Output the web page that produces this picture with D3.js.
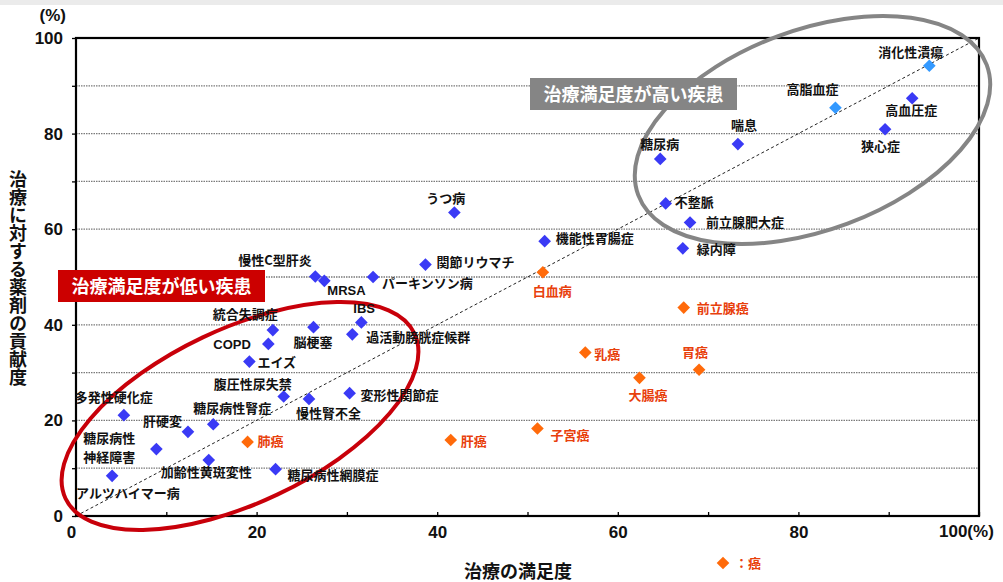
<!DOCTYPE html>
<html><head><meta charset="utf-8">
<script src="https://cdn.jsdelivr.net/npm/d3@7/dist/d3.min.js"></script>
<style>
html,body{margin:0;padding:0;background:#fff;}
svg{display:block;}
</style></head>
<body><svg id="chart" width="1003" height="582"></svg>
<script>
// ---------- data ----------
const blueNames = ["アルツハイマー病","糖尿病性\n神経障害","多発性硬化症","肝硬変","糖尿病性腎症","加齢性黄斑変性","糖尿病性網膜症","腹圧性尿失禁","慢性腎不全","変形性関節症","エイズ","COPD","統合失調症","脳梗塞","過活動膀胱症候群","IBS","慢性C型肝炎","MRSA","パーキンソン病","関節リウマチ","うつ病","機能性胃腸症","糖尿病","喘息","不整脈","前立腺肥大症","緑内障","狭心症","高血圧症"];
const blueX = [4.0,8.9,5.3,12.4,15.2,14.7,22.1,23.0,25.8,30.3,19.2,21.3,21.8,26.3,30.6,31.6,26.5,27.5,32.9,38.7,41.9,51.9,64.7,73.3,65.3,68.0,67.2,89.6,92.6];
const blueY = [8.4,14.0,21.1,17.6,19.2,11.7,9.8,25.0,24.5,25.7,32.3,36.0,38.9,39.5,38.0,40.5,50.1,49.2,50.0,52.6,63.5,57.5,74.7,77.8,65.4,61.4,56.0,80.9,87.4];

const lightNames = ["高脂血症","消化性潰瘍"];
const lightX = [84.1,94.5];
const lightY = [85.4,94.2];

const cancerNames = ["肺癌","肝癌","子宮癌","白血病","乳癌","大腸癌","胃癌","前立腺癌"];
const cancerX = [19.0,41.5,51.1,51.7,56.4,62.4,69.0,67.3];
const cancerY = [15.5,15.9,18.3,51.0,34.2,28.9,30.6,43.6];

const yTicks = [0,10,20,30,40,50,60,70,80,90,100];
const xTicks = [0,10,20,30,40,50,60,70,80,90,100];
const tickLabels = [0,20,40,60,80];

const xTitle = "治療の満足度";
const yTitle = "治療に対する薬剤の貢献度";
const lowLabel = "治療満足度が低い疾患";
const highLabel = "治療満足度が高い疾患";
const legendLabel = "：癌";

// ---------- layout (label offsets in px, relative to the marker) ----------
const labelOffsets = {
 "アルツハイマー病":[-36,22],"糖尿病性\n神経障害":[-73,-6],"多発性硬化症":[-49,-13],"肝硬変":[-45,-6],
 "糖尿病性腎症":[-20,-11],"加齢性黄斑変性":[-48,17],"糖尿病性網膜症":[12,11],"腹圧性尿失禁":[-70,-8],
 "慢性腎不全":[-13,19],"変形性関節症":[11,7],"エイズ":[8,5],"COPD":[-55,5],"統合失調症":[-60,-11],
 "脳梗塞":[-20,20],"過活動膀胱症候群":[14,8],"IBS":[-8,-9],"慢性C型肝炎":[-77,-12],"MRSA":[3,14],
 "パーキンソン病":[9,11],"関節リウマチ":[11,2],"うつ病":[-28,-9],"機能性胃腸症":[11,2],"糖尿病":[-20,-10],
 "喘息":[-7,-14],"不整脈":[9,4],"前立腺肥大症":[16,4],"緑内障":[14,6],"狭心症":[-24,22],"高血圧症":[-27,17],
 "高脂血症":[-49,-14],"消化性潰瘍":[-51,-9],
 "肺癌":[10,4],"肝癌":[10,6],"子宮癌":[13,11],"白血病":[-10,24],"乳癌":[9,6],"大腸癌":[-11,22],"胃癌":[-17,-13],"前立腺癌":[13,5]
};
const lineGap = 19;

const W = 1003, H = 582;
const svg = d3.select("#chart");
const x = d3.scaleLinear().domain([0,100]).range([76,979]);
const y = d3.scaleLinear().domain([0,100]).range([516,38]);

const numFont = "'Liberation Sans', Arial, sans-serif";
const jpFont = "'Noto Sans CJK JP', 'Noto Sans CJK SC', sans-serif";

// top band
svg.append("rect").attr("x",0).attr("y",0).attr("width",W).attr("height",5).attr("fill","#ebebeb");

// grid
svg.append("g").selectAll("line").data(yTicks.filter(v=>v>0&&v<100)).join("line")
  .attr("x1",x(0)).attr("x2",x(100)).attr("y1",d=>y(d)).attr("y2",d=>y(d))
  .attr("stroke","#7a7a7a").attr("stroke-width",1.3).attr("stroke-dasharray","1.5,1");

// diagonal
svg.append("line").attr("x1",x(0)).attr("y1",y(0)).attr("x2",x(100)).attr("y2",y(100))
  .attr("stroke","#222").attr("stroke-width",1).attr("stroke-dasharray","3,2.5");

// axes
const gy = svg.append("g").attr("transform",`translate(${x(0)},0)`)
  .call(d3.axisLeft(y).tickValues(yTicks).tickSize(4).tickPadding(9)
     .tickFormat(d=>tickLabels.includes(d)||d===100 ? d : ""));
gy.select(".domain").remove();
gy.selectAll("line").attr("stroke","#000").attr("stroke-width",1.3);
gy.selectAll("text").attr("font-family",numFont).attr("font-weight","bold").attr("font-size",17).attr("fill","#111");

const gx = svg.append("g").attr("transform",`translate(0,${y(0)})`)
  .call(d3.axisBottom(x).tickValues(xTicks).tickSizeInner(-4).tickSizeOuter(0).tickPadding(10)
     .tickFormat(d=>tickLabels.includes(d) ? d : ""));
gx.select(".domain").remove();
gx.selectAll("line").attr("stroke","#000").attr("stroke-width",1.3);
gx.selectAll("text").attr("font-family",numFont).attr("font-weight","bold").attr("font-size",17).attr("fill","#111");
gx.selectAll(".tick").filter(d=>d===0).select("text").attr("dx",-5);

svg.append("text").attr("x",939).attr("y",537).attr("font-family",numFont).attr("font-weight","bold")
  .attr("font-size",17).attr("fill","#111").text("100(%)");
svg.append("text").attr("x",66).attr("y",21).attr("text-anchor","end").attr("font-family",numFont)
  .attr("font-weight","bold").attr("font-size",17).attr("fill","#111").text("(%)");

// frame
svg.append("rect").attr("x",x(0)).attr("y",y(100)).attr("width",x(100)-x(0)).attr("height",y(0)-y(100))
  .attr("fill","none").attr("stroke","#000").attr("stroke-width",2.2);

// ellipses
function ellipse(cxv, cyv, rx, ry, rot, color){
  svg.append("ellipse").attr("cx",0).attr("cy",0).attr("rx",rx).attr("ry",ry)
    .attr("transform",`translate(${x(cxv)},${y(cyv)}) rotate(${rot})`)
    .attr("fill","none").attr("stroke",color).attr("stroke-width",4);
}
ellipse(x.invert(240), y.invert(416), 193, 87, -25.3, "#c8000a");
ellipse(x.invert(812.5), y.invert(130), 186, 100, -20.5, "#858585");

// label boxes
function box(x0,y0,w,h,fill,txt){
  svg.append("rect").attr("x",x0).attr("y",y0).attr("width",w).attr("height",h).attr("fill",fill);
  svg.append("text").attr("x",x0+w/2).attr("y",y0+h/2+6.5).attr("text-anchor","middle")
    .attr("font-family",jpFont).attr("font-weight","bold").attr("font-size",18).attr("fill","#fff").text(txt);
}
box(58,270,207,32,"#cc0000",lowLabel);
box(530,78,207,32,"#858585",highLabel);

// points
const diamond = d3.symbol().type(d3.symbolSquare).size(80);
function series(names, xs, ys, color, textColor){
  const data = names.map((n,i)=>({n, x:xs[i], y:ys[i]}));
  const g = svg.append("g");
  g.selectAll("path").data(data).join("path")
    .attr("d",diamond).attr("fill",color)
    .attr("transform",d=>`translate(${x(d.x)},${y(d.y)}) rotate(45)`);
  const lines = data.flatMap(d=>d.n.split("\n").map((l,i)=>({d, l, i})));
  g.selectAll("text").data(lines).join("text")
    .attr("x",e=>x(e.d.x)+labelOffsets[e.d.n][0])
    .attr("y",e=>y(e.d.y)+labelOffsets[e.d.n][1]+e.i*lineGap)
    .attr("font-family",e=>/^[A-Z]+$/.test(e.l)? numFont : jpFont)
    .attr("font-weight","bold").attr("font-size",13).attr("fill",textColor)
    .text(e=>e.l);
}
series(blueNames, blueX, blueY, "#3a3af5", "#111");
series(lightNames, lightX, lightY, "#3399ff", "#111");
series(cancerNames, cancerX, cancerY, "#ff6a0a", "#e8400c");

// titles
svg.append("text").attr("x",518).attr("y",578).attr("text-anchor","middle").attr("font-family",jpFont)
  .attr("font-weight","bold").attr("font-size",18).attr("fill","#111").text(xTitle);
svg.append("text").attr("x",18).attr("y",278).attr("text-anchor","middle").attr("font-family",jpFont)
  .attr("font-weight","bold").attr("font-size",18).attr("fill","#111")
  .style("writing-mode","vertical-rl").style("text-orientation","upright").text(yTitle);

// legend
svg.append("path").attr("d",diamond).attr("fill","#ff6a0a").attr("transform","translate(723,563) rotate(45)");
svg.append("text").attr("x",735).attr("y",568).attr("font-family",jpFont).attr("font-weight","bold")
  .attr("font-size",13).attr("fill","#e8400c").text(legendLabel);
</script></body></html>
